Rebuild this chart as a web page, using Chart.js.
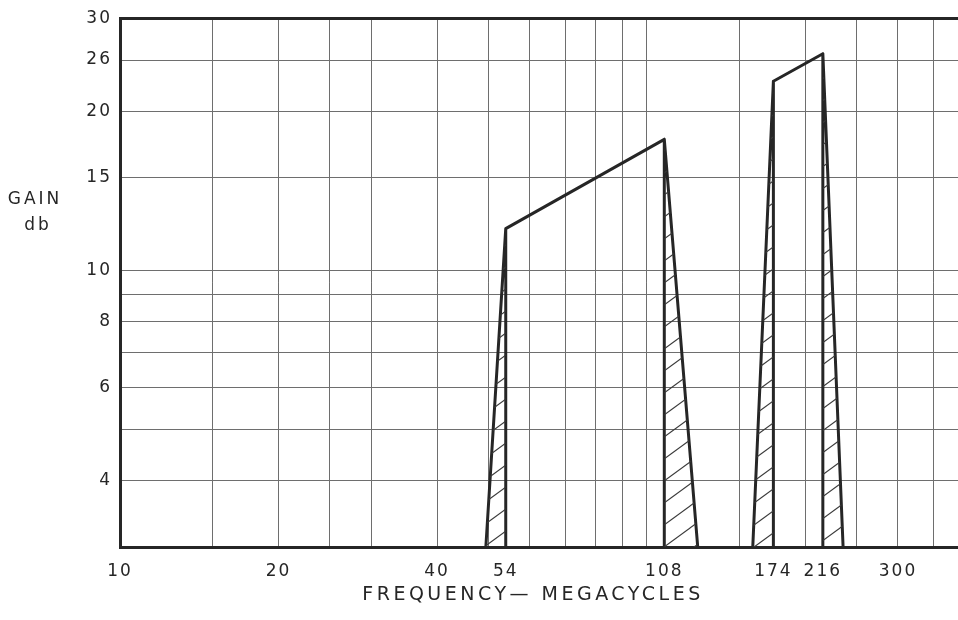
<!DOCTYPE html>
<html>
<head>
<meta charset="utf-8">
<script src="https://cdn.jsdelivr.net/npm/chart.js@4.4.0/dist/chart.umd.min.js"></script>
<style>
  html, body { margin: 0; padding: 0; background: #ffffff; overflow: hidden; }
  canvas { display: block; }
</style>
</head>
<body>
<canvas id="chart" width="958" height="620"></canvas>
<script>
// ---- data ----
// Low VHF band: skirt start, band edge (54 Mc), band edge (108 Mc), skirt end
const lowBandFreq = [49.5, 54, 108, 125];
const lowBandGain = [3, 12, 17.7, 3];
// High VHF band: skirt start, band edge (174 Mc), band edge (216 Mc), skirt end
const highBandFreq = [159, 174, 216, 236];
const highBandGain = [3, 22.8, 25.7, 3];

// axis grid values and tick labels
const xGridValues = [10, 15, 20, 25, 30, 40, 50, 60, 70, 80, 90, 100, 150, 200, 250, 300, 350];
const xLabelValues = [10, 20, 40, 54, 108, 174, 216, 300];
const yGridValues = [3, 4, 5, 6, 7, 8, 9, 10, 15, 20, 25, 30];
const yLabelText  = ['', '4', '', '6', '', '8', '', '10', '15', '20', '26', '30'];

const X_MIN = 10, X_MAX = 390, Y_MIN = 3, Y_MAX = 30;
const FONT = '"DejaVu Sans", "Liberation Sans", sans-serif';
const INK = '#262626';
const GRID = '#6e6e6e';

const xTickValues = Array.from(new Set([...xGridValues, ...xLabelValues])).sort((a, b) => a - b);

function hatchPattern() {
  const w = 30, h = 22;
  const c = document.createElement('canvas');
  c.width = w; c.height = h;
  const g = c.getContext('2d');
  g.strokeStyle = '#3a3a3a';
  g.lineWidth = 1.1;
  for (const off of [-h, 0, h]) {
    g.beginPath();
    g.moveTo(-w, 2 * h + off);
    g.lineTo(2 * w, -h + off);
    g.stroke();
  }
  return g.createPattern(c, 'repeat');
}
const hatch = hatchPattern();

function pts(xs, ys) { return xs.map((x, i) => ({ x, y: ys[i] })); }

function bandDatasets(f, g) {
  const hatchLeft = pts([f[0], f[1], f[1]], [g[0], g[1], Y_MIN]);
  const hatchRight = pts([f[2], f[2], f[3]], [Y_MIN, g[2], g[3]]);
  const outline = pts(
    [f[0], f[1], f[1], f[1], f[2], f[2], f[2], f[3]],
    [g[0], g[1], Y_MIN, g[1], g[2], Y_MIN, g[2], g[3]]
  );
  const hatchStyle = {
    showLine: true, fill: 'start', backgroundColor: hatch,
    borderWidth: 0, borderColor: 'rgba(0,0,0,0)', pointRadius: 0, tension: 0
  };
  return [
    Object.assign({ data: hatchLeft }, hatchStyle),
    Object.assign({ data: hatchRight }, hatchStyle),
    {
      data: outline, showLine: true, fill: false, borderColor: INK, borderWidth: 3,
      borderJoinStyle: 'round', borderCapStyle: 'butt', pointRadius: 0, tension: 0
    }
  ];
}

const titlesPlugin = {
  id: 'titles',
  beforeDraw(chart) {
    chart.ctx.letterSpacing = '2px';
  },
  afterDraw(chart) {
    const ctx = chart.ctx;
    ctx.save();
    ctx.fillStyle = INK;
    ctx.textAlign = 'center';
    ctx.textBaseline = 'alphabetic';
    ctx.font = '17px ' + FONT;
    ctx.letterSpacing = '3px';
    ctx.fillText('GAIN', 35, 204);
    ctx.fillText('db', 38, 230);
    ctx.font = '19px ' + FONT;
    ctx.letterSpacing = '3.5px';
    ctx.fillText('FREQUENCY\u2014 MEGACYCLES', 533, 600);
    ctx.restore();
  }
};

new Chart(document.getElementById('chart'), {
  type: 'scatter',
  data: {
    datasets: [...bandDatasets(lowBandFreq, lowBandGain), ...bandDatasets(highBandFreq, highBandGain)]
  },
  options: {
    responsive: false,
    animation: false,
    devicePixelRatio: 1,
    layout: { padding: { top: 16, right: 0, bottom: 0, left: 0 } },
    plugins: { legend: { display: false }, tooltip: { enabled: false } },
    scales: {
      x: {
        type: 'logarithmic',
        min: X_MIN, max: X_MAX,
        afterBuildTicks: s => { s.ticks = xTickValues.map(v => ({ value: v })); },
        afterFit: s => { s.height = 73; },
        grid: {
          drawTicks: false,
          lineWidth: 1,
          color: c => (c.tick && xGridValues.includes(c.tick.value)) ? GRID : 'rgba(0,0,0,0)'
        },
        border: { display: true, color: INK, width: 3 },
        ticks: {
          autoSkip: false, maxRotation: 0, minRotation: 0, padding: 14,
          color: INK, font: { family: FONT, size: 17 },
          callback: v => xLabelValues.includes(v) ? String(v) : ''
        }
      },
      y: {
        type: 'logarithmic',
        min: Y_MIN, max: Y_MAX,
        afterBuildTicks: s => { s.ticks = yGridValues.map(v => ({ value: v })); },
        afterFit: s => { s.width = 120; },
        grid: {
          drawTicks: false,
          lineWidth: c => (c.tick && c.tick.value === Y_MAX) ? 3 : 1,
          color: c => (c.tick && c.tick.value === Y_MAX) ? INK : GRID
        },
        border: { display: true, color: INK, width: 3 },
        ticks: {
          autoSkip: false, padding: 8,
          color: INK, font: { family: FONT, size: 17 },
          callback: v => { const i = yGridValues.indexOf(v); return i >= 0 ? yLabelText[i] : ''; }
        }
      }
    }
  },
  plugins: [titlesPlugin]
});
</script>
</body>
</html>
